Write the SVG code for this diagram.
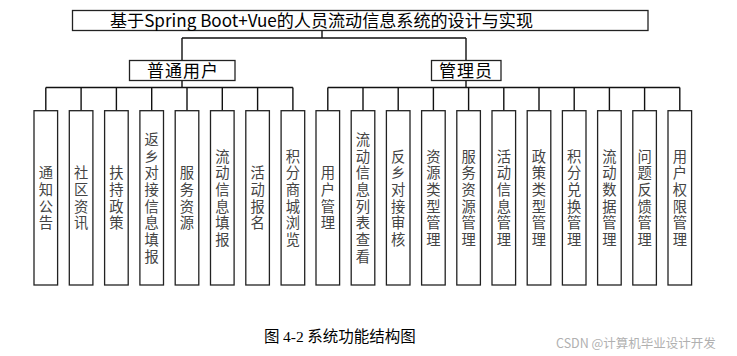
<svg xmlns="http://www.w3.org/2000/svg" width="737" height="356" viewBox="0 0 737 356">
<style>
.box{fill:#fff;stroke:#222;stroke-width:1.3}
.ln{fill:none;stroke:#111;stroke-width:1.4}
.t{font-family:"Noto Sans CJK SC","Liberation Sans",sans-serif;fill:#000}
.v{font-family:"Noto Sans CJK SC",sans-serif;font-size:14.3px;fill:#444;text-anchor:middle;writing-mode:vertical-rl;letter-spacing:2.4px}
</style>
<rect width="737" height="356" fill="#fff"/>
<g id="connectors">
<path class="ln" d="M322 30V38M182 38H466M182 38V60M466 38V60"/>
<path class="ln" d="M182 80V87.5M45.8 87.5H292.9M45.8 87.5V110.7M81.1 87.5V110.7M116.4 87.5V110.7M151.7 87.5V110.7M187 87.5V110.7M222.3 87.5V110.7M257.6 87.5V110.7M292.9 87.5V110.7"/>
<path class="ln" d="M466 80V87.5M327.8 87.5H679.8M327.8 87.5V110.7M363 87.5V110.7M398.2 87.5V110.7M433.4 87.5V110.7M468.6 87.5V110.7M503.8 87.5V110.7M539 87.5V110.7M574.2 87.5V110.7M609.4 87.5V110.7M644.6 87.5V110.7M679.8 87.5V110.7"/>
</g>
<g id="title">
<rect class="box" x="72.5" y="10.5" width="575.5" height="20"/>
<text class="t" x="321.5" y="26.5" font-size="17" text-anchor="middle" textLength="423" lengthAdjust="spacingAndGlyphs">基于Spring Boot+Vue的人员流动信息系统的设计与实现</text>
</g>
<g id="user">
<rect class="box" x="129.5" y="60.5" width="105.5" height="20"/>
<text class="t" x="183" y="76.5" font-size="17" text-anchor="middle" letter-spacing="1">普通用户</text>
</g>
<g id="admin">
<rect class="box" x="431.5" y="60.5" width="69.5" height="20"/>
<text class="t" x="466" y="76.5" font-size="17" text-anchor="middle" letter-spacing="1">管理员</text>
</g>
<g id="u1"><rect class="box" x="34" y="110.7" width="23.6" height="174.3"/><text class="v" x="45.8" y="199.2">通知公告</text></g>
<g id="u2"><rect class="box" x="69.3" y="110.7" width="23.6" height="174.3"/><text class="v" x="81.1" y="199.2">社区资讯</text></g>
<g id="u3"><rect class="box" x="104.6" y="110.7" width="23.6" height="174.3"/><text class="v" x="116.4" y="199.2">扶持政策</text></g>
<g id="u4"><rect class="box" x="139.9" y="110.7" width="23.6" height="174.3"/><text class="v" x="151.7" y="199.2">返乡对接信息填报</text></g>
<g id="u5"><rect class="box" x="175.2" y="110.7" width="23.6" height="174.3"/><text class="v" x="187" y="199.2">服务资源</text></g>
<g id="u6"><rect class="box" x="210.5" y="110.7" width="23.6" height="174.3"/><text class="v" x="222.3" y="199.2">流动信息填报</text></g>
<g id="u7"><rect class="box" x="245.8" y="110.7" width="23.6" height="174.3"/><text class="v" x="257.6" y="199.2">活动报名</text></g>
<g id="u8"><rect class="box" x="281.1" y="110.7" width="23.6" height="174.3"/><text class="v" x="292.9" y="199.2">积分商城浏览</text></g>
<g id="a1"><rect class="box" x="316" y="110.7" width="23.6" height="174.3"/><text class="v" x="327.8" y="199.2">用户管理</text></g>
<g id="a2"><rect class="box" x="351.2" y="110.7" width="23.6" height="174.3"/><text class="v" x="363" y="199.2">流动信息列表查看</text></g>
<g id="a3"><rect class="box" x="386.4" y="110.7" width="23.6" height="174.3"/><text class="v" x="398.2" y="199.2">反乡对接审核</text></g>
<g id="a4"><rect class="box" x="421.6" y="110.7" width="23.6" height="174.3"/><text class="v" x="433.4" y="199.2">资源类型管理</text></g>
<g id="a5"><rect class="box" x="456.8" y="110.7" width="23.6" height="174.3"/><text class="v" x="468.6" y="199.2">服务资源管理</text></g>
<g id="a6"><rect class="box" x="492" y="110.7" width="23.6" height="174.3"/><text class="v" x="503.8" y="199.2">活动信息管理</text></g>
<g id="a7"><rect class="box" x="527.2" y="110.7" width="23.6" height="174.3"/><text class="v" x="539" y="199.2">政策类型管理</text></g>
<g id="a8"><rect class="box" x="562.4" y="110.7" width="23.6" height="174.3"/><text class="v" x="574.2" y="199.2">积分兑换管理</text></g>
<g id="a9"><rect class="box" x="597.6" y="110.7" width="23.6" height="174.3"/><text class="v" x="609.4" y="199.2">流动数据管理</text></g>
<g id="a10"><rect class="box" x="632.8" y="110.7" width="23.6" height="174.3"/><text class="v" x="644.6" y="199.2">问题反馈管理</text></g>
<g id="a11"><rect class="box" x="668" y="110.7" width="23.6" height="174.3"/><text class="v" x="679.8" y="199.2">用户权限管理</text></g>
<g id="caption">
<text class="t" x="264" y="342" font-size="15.5">图 <tspan font-family="Liberation Serif,serif">4-2</tspan> 系统功能结构图</text>
</g>
<g id="watermark">
<text x="556" y="347.5" font-family="Noto Sans CJK SC,sans-serif" font-size="12.5" fill="#b0b0b0">CSDN @计算机毕业设计开发</text>
</g>
</svg>
